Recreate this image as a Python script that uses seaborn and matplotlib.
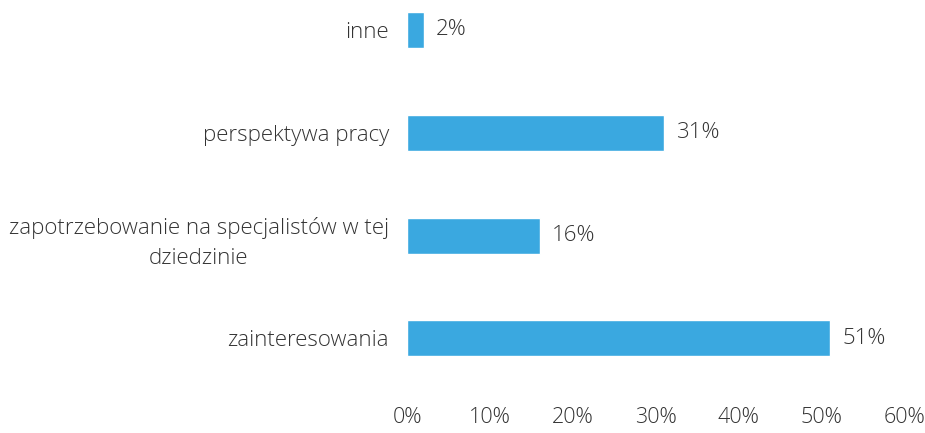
import seaborn as sns
import matplotlib.pyplot as plt
import pandas as pd

# data
categories = ['inne', 'perspektywa pracy',
              'zapotrzebowanie na specjalistów w tej\ndziedzinie',
              'zainteresowania']
values = [2, 31, 16, 51]
xticks = [0, 10, 20, 30, 40, 50, 60]

df = pd.DataFrame({'category': categories, 'value': values})

sns.set_style('white')
plt.rcParams['font.family'] = ['Open Sans', 'DejaVu Sans']
text_color = '#333333'
fs = 16

fig = plt.figure(figsize=(9.25, 4.33), dpi=100)
ax = fig.add_axes([0.44, 0.09, 0.538, 0.91])

sns.barplot(data=df, x='value', y='category', orient='h', color='#3aa8e0',
            saturation=1, width=0.35, ax=ax)

labels = [f'{v}%' for v in values]
ax.bar_label(ax.containers[0], labels=labels, padding=9, fontsize=fs,
             color=text_color, fontweight='light')

ax.set_xlim(0, 60)
ax.set_ylim(3.54, -0.29)
ax.set_xticks(xticks)
ax.set_xticklabels([f'{t}%' for t in xticks], fontsize=15.5, color=text_color,
                   fontweight='light')
ax.tick_params(axis='x', length=0, pad=9)
ax.tick_params(axis='y', length=0, pad=13)
for lbl in ax.get_yticklabels():
    lbl.set_fontsize(fs)
    lbl.set_color(text_color)
    lbl.set_fontweight('light')
    lbl.set_multialignment('center')
    lbl.set_linespacing(1.6)
ax.set_xlabel('')
ax.set_ylabel('')
sns.despine(ax=ax, left=True, bottom=True)

fig.savefig('out.png', dpi=100)
